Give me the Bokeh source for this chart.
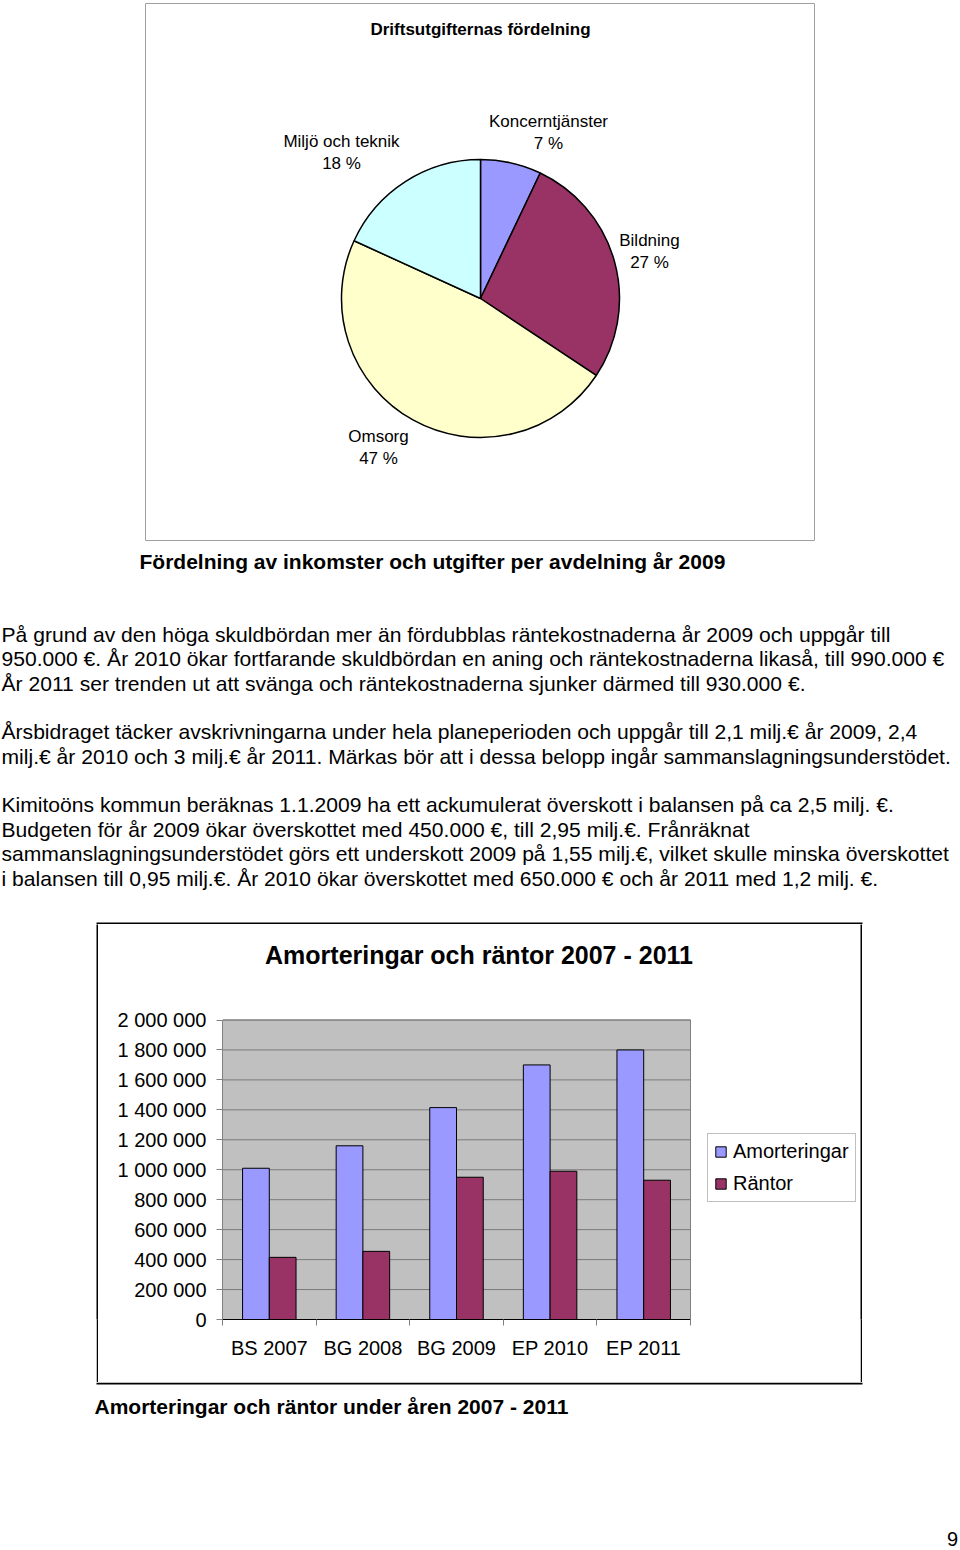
import numpy as np
from bokeh.plotting import figure
from bokeh.models import Range1d, ColumnDataSource, FixedTicker, Legend, LegendItem, Spacer
from bokeh.layouts import column, row
from bokeh.core.properties import value
from bokeh.embed import file_html
from bokeh.resources import INLINE

FONT = "Liberation Sans"
PAGE_H = 1550

# ---------------- data ----------------
pie_title = "Driftsutgifternas fördelning"
pie_labels = ["Koncerntjänster", "Bildning", "Omsorg", "Miljö och teknik"]
pie_values = [7, 27, 47, 18]
pie_colors = ["#9999FF", "#993366", "#FFFFCC", "#CCFFFF"]

caption_pie = "Fördelning av inkomster och utgifter per avdelning år 2009"
paragraph_lines = [
    "På grund av den höga skuldbördan mer än fördubblas räntekostnaderna år 2009 och uppgår till",
    "950.000 €. År 2010 ökar fortfarande skuldbördan en aning och räntekostnaderna likaså, till 990.000 €",
    "År 2011 ser trenden ut att svänga och räntekostnaderna sjunker därmed till 930.000 €.",
    "Årsbidraget täcker avskrivningarna under hela planeperioden och uppgår till 2,1 milj.€ år 2009, 2,4",
    "milj.€ år 2010 och 3 milj.€ år 2011. Märkas bör att i dessa belopp ingår sammanslagningsunderstödet.",
    "Kimitoöns kommun beräknas 1.1.2009 ha ett ackumulerat överskott i balansen på ca 2,5 milj. €.",
    "Budgeten för år 2009 ökar överskottet med 450.000 €, till 2,95 milj.€. Frånräknat",
    "sammanslagningsunderstödet görs ett underskott 2009 på 1,55 milj.€, vilket skulle minska överskottet",
    "i balansen till 0,95 milj.€. År 2010 ökar överskottet med 650.000 € och år 2011 med 1,2 milj. €.",
]

bar_title = "Amorteringar och räntor 2007 - 2011"
bar_categories = ["BS 2007", "BG 2008", "BG 2009", "EP 2010", "EP 2011"]
amorteringar = [1010000, 1160000, 1415000, 1700000, 1800000]
rantor = [415000, 455000, 950000, 990000, 930000]
series_names = ["Amorteringar", "Räntor"]
series_colors = ["#9999FF", "#993366"]
y_ticks = [0, 200000, 400000, 600000, 800000, 1000000, 1200000, 1400000, 1600000, 1800000, 2000000]
y_tick_labels = ["0", "200 000", "400 000", "600 000", "800 000", "1 000 000",
                 "1 200 000", "1 400 000", "1 600 000", "1 800 000", "2 000 000"]

caption_bar = "Amorteringar och räntor under åren 2007 - 2011"
page_number = "9"


def fy(page_y):
    return PAGE_H - page_y


def blank_fig(w, h, xr, yr):
    p = figure(width=w, height=h, x_range=xr, y_range=yr, output_backend="svg",
               toolbar_location=None, x_axis_type=None, y_axis_type=None,
               min_border=0, title=None)
    p.outline_line_color = None
    p.background_fill_color = "white"
    p.border_fill_color = "white"
    return p


def black_fig(w, h):
    p = figure(width=w, height=h, output_backend="svg", toolbar_location=None,
               x_axis_type=None, y_axis_type=None, min_border=0, title=None)
    p.background_fill_color = "black"
    p.border_fill_color = "black"
    p.outline_line_color = None
    return p


# ---------------- pie (page y 3..541) ----------------
pie_fig = blank_fig(670, 538, Range1d(145, 815), Range1d(fy(541), fy(3)))
pie_fig.outline_line_color = "#a0a0a0"
pie_fig.outline_line_width = 1

vals = np.array(pie_values, dtype=float)
frac = vals / vals.sum()
cum = np.concatenate([[0.0], np.cumsum(frac)])
pie_src = ColumnDataSource(dict(
    start=np.pi / 2 - 2 * np.pi * cum[:-1],
    end=np.pi / 2 - 2 * np.pi * cum[1:],
    color=pie_colors,
))
pie_fig.wedge(x=480, y=fy(298), radius=139, start_angle="start", end_angle="end",
              direction="clock", fill_color="color", line_color="black",
              line_width=1.5, source=pie_src)

lab_x = [548, 649, 378, 341]
lab_y1 = [121, 240, 436, 141]
lab_y2 = [143, 262, 458, 163]
pie_fig.text(x=lab_x, y=[fy(v) for v in lab_y1], text=pie_labels,
             text_font=value(FONT), text_font_size="17px", text_align="center",
             text_baseline="middle", text_color="black")
pie_fig.text(x=lab_x, y=[fy(v) for v in lab_y2], text=[f"{v} %" for v in pie_values],
             text_font=value(FONT), text_font_size="17px", text_align="center",
             text_baseline="middle", text_color="black")
pie_fig.text(x=[480], y=[fy(29)], text=[pie_title], text_font=value(FONT),
             text_font_size="17px", text_font_style="bold", text_align="center",
             text_baseline="middle", text_color="black")

# ---------------- text block (page y 541..924) ----------------
text_fig = blank_fig(960, 383, Range1d(0, 960), Range1d(fy(924), fy(541)))
text_fig.text(x=[139], y=[fy(561)], text=[caption_pie], text_font=value(FONT),
              text_font_size="21px", text_font_style="bold", text_align="left",
              text_baseline="middle", text_color="black")
line_y = [634, 658, 683, 731, 756, 804, 829, 853, 878]
text_fig.text(x=[1] * len(paragraph_lines), y=[fy(v) for v in line_y], text=paragraph_lines,
              text_font=value(FONT), text_font_size="21.1px", text_align="left",
              text_baseline="middle", text_color="black")
# top edge of the chart box
BOX_L, BOX_R = 96, 862
text_fig.quad(left=[BOX_L], right=[BOX_R], bottom=[fy(924)], top=[fy(922)],
              fill_color="black", line_color=None)

# ---------------- bar chart (page y 924..1382) ----------------
BW, BH = 762, 458
ML, MB = 124, 63
frame_w = BW - ML
frame_h = BH - MB
area_w = 468.0     # plot area width in px
area_h = 299.5     # plot area height in px
ncat = len(bar_categories)
x_end = ncat * frame_w / area_w
y_end = y_ticks[-1] * frame_h / area_h

bar_fig = figure(width=BW, height=BH, x_range=Range1d(0, x_end), y_range=Range1d(0, y_end),
                 output_backend="svg", toolbar_location=None, title=None,
                 min_border_left=ML, min_border_right=0, min_border_top=0,
                 min_border_bottom=MB)
bar_fig.outline_line_color = None
bar_fig.background_fill_color = "white"
bar_fig.border_fill_color = "white"
bar_fig.xgrid.visible = False
bar_fig.ygrid.visible = False

centers = np.arange(ncat) + 0.5
bounds_x = np.arange(ncat + 1)

# plot area background
bar_fig.quad(left=[bounds_x[0]], right=[bounds_x[-1]], bottom=[y_ticks[0]], top=[y_ticks[-1]],
             fill_color="#C0C0C0", line_color="#808080", line_width=1)
# gridlines
bar_fig.segment(x0=[bounds_x[0]] * (len(y_ticks) - 1), x1=[bounds_x[-1]] * (len(y_ticks) - 1),
                y0=y_ticks[1:], y1=y_ticks[1:], line_color="#7a7a7a", line_width=1)

bw = 1 / 3.5
r1 = bar_fig.vbar(x=centers - bw / 2, top=amorteringar, width=bw, fill_color=series_colors[0],
                  line_color="black", line_width=1)
r2 = bar_fig.vbar(x=centers + bw / 2, top=rantor, width=bw, fill_color=series_colors[1],
                  line_color="black", line_width=1)

# y axis
ya = bar_fig.yaxis[0]
ya.ticker = FixedTicker(ticks=y_ticks)
ya.major_label_overrides = {t: l for t, l in zip(y_ticks, y_tick_labels)}
ya.bounds = (y_ticks[0], y_ticks[-1])
ya.axis_line_color = "#808080"
ya.major_tick_line_color = "#808080"
ya.major_tick_out = 6
ya.major_tick_in = 0
ya.minor_tick_line_color = None
ya.major_label_standoff = 10
ya.major_label_text_font = FONT
ya.major_label_text_font_size = "20px"
ya.major_label_text_color = "black"

# x axis
xa = bar_fig.xaxis[0]
xa.ticker = FixedTicker(ticks=list(centers), minor_ticks=list(bounds_x))
xa.major_label_overrides = {float(c): l for c, l in zip(centers, bar_categories)}
xa.bounds = (float(bounds_x[0]), float(bounds_x[-1]))
xa.axis_line_color = "black"
xa.axis_line_width = 1.2
xa.major_tick_line_color = None
xa.major_tick_in = 0
xa.major_tick_out = 0
xa.minor_tick_line_color = "#808080"
xa.minor_tick_in = 0
xa.minor_tick_out = 6
xa.major_label_standoff = 11
xa.major_label_text_font = FONT
xa.major_label_text_font_size = "20px"
xa.major_label_text_color = "black"

# chart title (positioned in page pixels, converted to data space)
frame_left_px = 222.0
frame_bottom_px = 1319.0
title_px = (478.5, 954)
bar_fig.text(x=[(title_px[0] - frame_left_px) / area_w * ncat],
             y=[(frame_bottom_px - title_px[1]) / area_h * y_ticks[-1]],
             text=[bar_title], text_font=value(FONT), text_font_size="25px",
             text_font_style="bold", text_align="center", text_baseline="middle",
             text_color="black")

legend = Legend(items=[LegendItem(label=series_names[0], renderers=[r1]),
                       LegendItem(label=series_names[1], renderers=[r2])],
                location=(485, 117))
legend.label_text_font = FONT
legend.label_text_font_size = "20px"
legend.label_text_color = "black"
legend.glyph_width = 13
legend.glyph_height = 13
legend.label_standoff = 6
legend.padding = 6
legend.spacing = 9
legend.margin = 0
legend.border_line_color = "#808080"
legend.border_line_width = 1
legend.background_fill_color = "white"
legend.background_fill_alpha = 1
bar_fig.add_layout(legend)

# ---------------- footer (page y 1382..1550) ----------------
foot_fig = blank_fig(960, 168, Range1d(0, 960), Range1d(fy(1550), fy(1382)))
foot_fig.quad(left=[BOX_L], right=[BOX_R], bottom=[fy(1384)], top=[fy(1382)],
              fill_color="black", line_color=None)
foot_fig.text(x=[94], y=[fy(1406)], text=[caption_bar], text_font=value(FONT),
              text_font_size="21px", text_font_style="bold", text_align="left",
              text_baseline="middle", text_color="black")
foot_fig.text(x=[952], y=[fy(1538)], text=[page_number], text_font=value(FONT),
              text_font_size="20px", text_align="center", text_baseline="middle",
              text_color="black")

page = column(
    Spacer(width=960, height=3),
    row(Spacer(width=145, height=538), pie_fig),
    text_fig,
    row(Spacer(width=BOX_L, height=BH), black_fig(2, BH), bar_fig, black_fig(2, BH)),
    foot_fig,
)

open("out.html", "w").write(file_html(page, INLINE))
